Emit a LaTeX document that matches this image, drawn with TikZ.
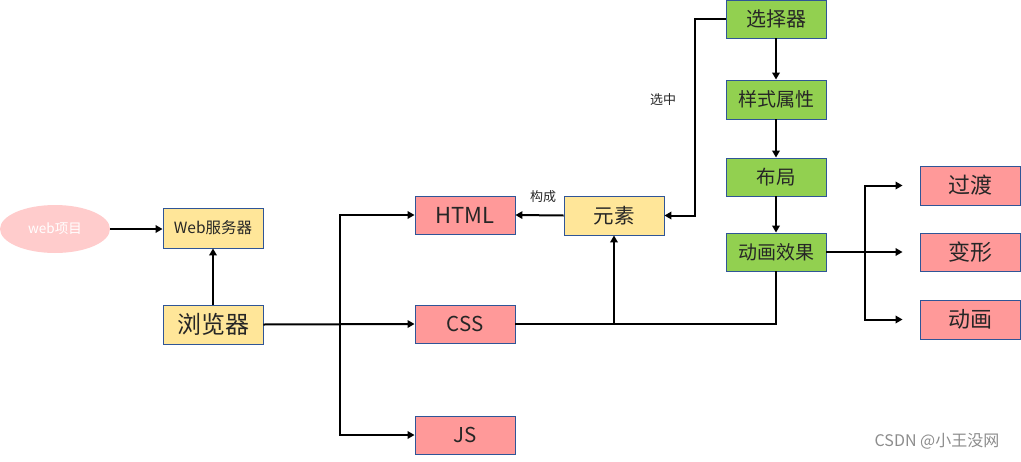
\documentclass[tikz,border=0pt]{standalone}
\usepackage{fontspec}
\setmainfont{Noto Sans CJK SC}
\usetikzlibrary{arrows.meta,shapes.geometric,calc}
\definecolor{yel}{HTML}{FFE699}
\definecolor{pnk}{HTML}{FF9999}
\definecolor{grn}{HTML}{92D050}
\definecolor{bdr}{HTML}{2F5597}
\definecolor{lpink}{HTML}{FFCCCC}
\tikzset{
  box/.style={draw=bdr, line width=0.9pt, minimum width=100pt, minimum height=38pt, inner sep=0pt, text=black!85},
  ybox/.style={box, fill=yel},
  pbox/.style={box, fill=pnk},
  gbox/.style={box, fill=grn},
  conn/.style={line width=2pt, black},
  arr/.style={conn, -{Triangle[length=7pt,width=7.5pt]}},
  lbl/.style={font=\fontsize{13}{15}\selectfont, text=black!85}
}
\begin{document}
\begin{tikzpicture}[x=1pt,y=-1pt]
\useasboundingbox (0,0) rectangle (1021,461);
% nodes
\node[ellipse, fill=lpink, minimum width=110pt, minimum height=48pt, inner sep=0pt, text=white, font=\fontsize{13.5}{15}\selectfont] (proj) at (55,229) {web项目};
\node[ybox, minimum height=40pt, font=\fontsize{15.5}{17}\selectfont] (web) at (213,228) {Web服务器};
\node[ybox, minimum height=39pt, font=\fontsize{24}{26}\selectfont] (bro) at (213,324.5) {浏览器};
\node[pbox, font=\fontsize{22}{24}\selectfont] (html) at (465,215) {HTML};
\node[pbox, font=\fontsize{20.5}{22}\selectfont] (css) at (465,324) {CSS};
\node[pbox, font=\fontsize{20.5}{22}\selectfont] (js) at (465,435) {JS};
\node[ybox, minimum height=39pt, font=\fontsize{20.5}{22}\selectfont] (yuan) at (614,215.5) {元素};
\node[gbox, font=\fontsize{20}{22}\selectfont] (sel) at (776,19) {选择器};
\node[gbox, minimum height=39pt, font=\fontsize{19}{21}\selectfont] (sty) at (776,99.5) {样式属性};
\node[gbox, font=\fontsize{19.5}{21}\selectfont] (lay) at (776,177) {布局};
\node[gbox, font=\fontsize{19}{21}\selectfont] (ani) at (776,252) {动画效果};
\node[pbox, minimum height=39pt, font=\fontsize{22}{24}\selectfont] (guo) at (970,185.5) {过渡};
\node[pbox, font=\fontsize{22}{24}\selectfont] (bian) at (970,252) {变形};
\node[pbox, minimum height=39pt, font=\fontsize{22}{24}\selectfont] (dh) at (970,319.5) {动画};
% connectors
\draw[arr] (proj.east) -- (web.west |- proj.east);
\draw[arr] (bro.north) -- (web.south);
\draw[arr] (bro.east) -- (css.west);
\coordinate (br) at (340,324);
\draw[arr] (br) |- (html.west);
\draw[arr] (br) |- (js.west);
\draw[arr] (css.east) -| (yuan.south);
\draw[conn] (yuan.south |- css.east) -| (ani.south);
\draw[arr] (yuan.west) -- (html.east);
\node[lbl] (goucheng) at (543,197) {构成};
\coordinate (sl) at (695,19);
\draw[arr] (sel.west) -- (sl) |- (yuan.east);
\node[lbl] (xuanzhong) at (663,100) {选中};
\draw[arr] (sel.south) -- (sty.north);
\draw[arr] (sty.south) -- (lay.north);
\draw[arr] (lay.south) -- (ani.north);
\coordinate (rb) at (865,252);
\draw[conn] (ani.east) -- (rb);
\draw[arr, shorten >=17pt] (rb) |- (guo.west);
\draw[arr, shorten >=17pt] (rb) -- (bian.west);
\draw[arr, shorten >=17pt] (rb) |- (dh.west);
\node[text=black!45, font=\fontsize{16}{18}\selectfont] (wm) at (937,441) {CSDN @小王没网};
\end{tikzpicture}
\end{document}
